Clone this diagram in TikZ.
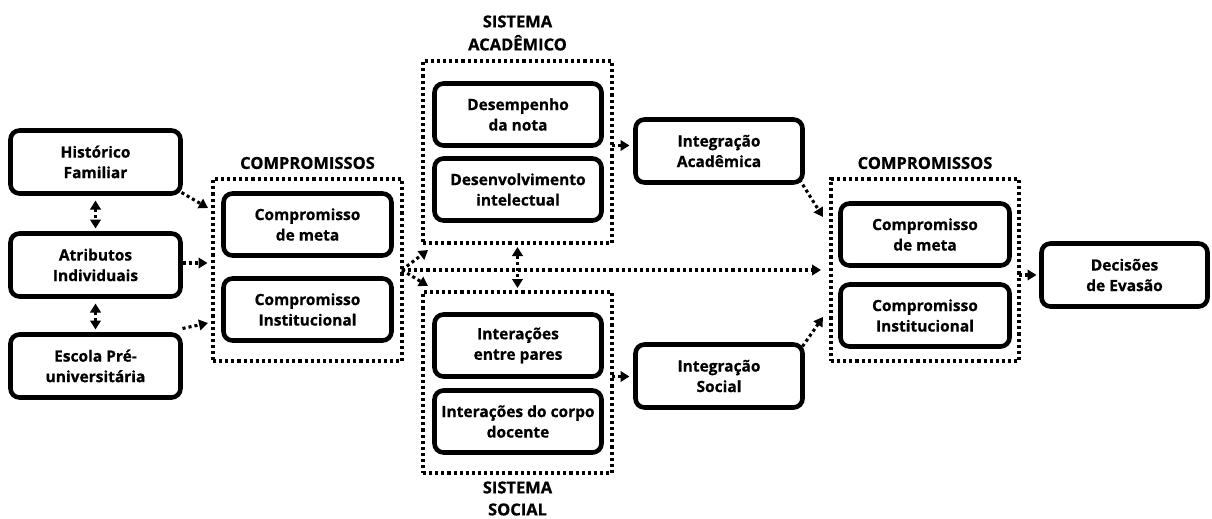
\documentclass[tikz,border=0pt]{standalone}
\usepackage{fontspec}
\setmainfont{Open Sans}[BoldFeatures={FakeBold=0.7}]
\usetikzlibrary{arrows.meta,calc}
\begin{document}
\begin{tikzpicture}[x=1pt,y=-1pt,
  box/.style={draw, line width=4.6pt, rounded corners=9pt, align=center, inner sep=0pt, outer sep=0pt,
    font=\fontsize{15.5}{20.5}\selectfont\bfseries},
  dotbox/.style={draw, line width=3.1pt, dash pattern=on 3.1pt off 3pt, inner sep=0pt, outer sep=0pt},
  lbl/.style={align=center, inner sep=0pt, font=\fontsize{16.5}{23}\selectfont\bfseries},
  arr/.style={line width=3.1pt, dash pattern=on 3.1pt off 3pt, -{Triangle[length=9pt,width=10.5pt]}},
  darr/.style={line width=3.1pt, dash pattern=on 3.1pt off 3pt, {Triangle[length=9pt,width=10.5pt]}-{Triangle[length=9pt,width=10.5pt]}},
]
\useasboundingbox (0,0) rectangle (1212,519);
% left column
\node[box, minimum width=170pt, minimum height=63pt] (hist) at (95.5,162) {Histórico\\Familiar};
\node[box, minimum width=170pt, minimum height=63pt] (attr) at (95.5,265) {Atributos\\Individuais};
\node[box, minimum width=170pt, minimum height=63pt] (esc) at (95.5,366) {Escola Pré-\\universitária};
% left commitments
\node[dotbox, minimum width=189pt, minimum height=182pt] (cbox1) at (307.5,270) {};
\node[lbl] (clbl1) at (307.5,163) {COMPROMISSOS};
\node[box, minimum width=168pt, minimum height=62pt] (cm1) at (307.5,224.5) {Compromisso\\de meta};
\node[box, minimum width=168pt, minimum height=62pt] (ci1) at (307.5,309.5) {Compromisso\\Institucional};
% academic system
\node[dotbox, minimum width=189pt, minimum height=182pt] (acad) at (517.5,152) {};
\node[lbl] (albl) at (517.5,33) {SISTEMA\\ACADÊMICO};
\node[box, minimum width=167pt, minimum height=62pt] (desemp) at (518,114.5) {Desempenho\\da nota};
\node[box, minimum width=167pt, minimum height=62pt] (desenv) at (518,189.5) {Desenvolvimento\\intelectual};
% social system
\node[dotbox, minimum width=189pt, minimum height=181pt] (soc) at (517.5,382.5) {};
\node[lbl, font=\fontsize{16.5}{22}\selectfont\bfseries] (slbl) at (517.5,498.5) {SISTEMA\\SOCIAL};
\node[box, minimum width=167pt, minimum height=62pt] (pares) at (518,345.5) {Interações\\entre pares};
\node[box, minimum width=167pt, minimum height=62pt] (corpo) at (518,421.5) {Interações do corpo\\docente};
% integration
\node[box, minimum width=167pt, minimum height=63pt] (intA) at (719,151) {Integração\\Acadêmica};
\node[box, minimum width=167pt, minimum height=63pt] (intS) at (719,376) {Integração\\Social};
% right commitments
\node[dotbox, minimum width=188pt, minimum height=182pt] (cbox2) at (925,270) {};
\node[lbl] (clbl2) at (925,163) {COMPROMISSOS};
\node[box, minimum width=169pt, minimum height=62pt] (cm2) at (925,234.5) {Compromisso\\de meta};
\node[box, minimum width=169pt, minimum height=62pt] (ci2) at (925,315.5) {Compromisso\\Institucional};
% decision
\node[box, minimum width=166pt, minimum height=63pt] (dec) at (1124.5,275) {Decisões\\de Evasão};
% free ends
\coordinate (t1) at (208,208);
\coordinate (t3) at (208,323);
\coordinate (tb1) at (428,250);
\coordinate (tb2) at (428,286);
\coordinate (te1) at (823,217);
\coordinate (te2) at (823,317);
% connectors
\draw[arr] ([shift={(1pt,1pt)}]hist.south east) -- (t1);
\draw[arr] ([shift={(2pt,2pt)}]attr.east) -- ([shift={(27pt,2pt)}]attr.east);
\draw[arr] ([shift={(2pt,6pt)}]esc.north east) -- (t3);
\draw[darr, shorten <=7pt, shorten >=5pt] (hist.south) -- (attr.north);
\draw[darr, shorten <=7pt, shorten >=5pt] (attr.south) -- (esc.north);
\draw[arr, shorten >=10pt] (cbox1.east) -- (cbox2.west);
\draw[arr] (cbox1.east) -- (tb1);
\draw[arr] (cbox1.east) -- (tb2);
\draw[darr, shorten <=4pt, shorten >=4pt] (acad.south) -- (soc.north);
\draw[arr, shorten >=6pt] (acad.east |- desemp.south) -- (intA.west |- desemp.south);
\draw[arr, shorten >=6pt] (soc.east |- pares.south) -- (intS.west |- pares.south);
\draw[arr] ([shift={(-3pt,3pt)}]intA.south east) -- (te1);
\draw[arr] ([shift={(0pt,-2pt)}]intS.north east) -- (te2);
\draw[arr, shorten >=5pt] (cbox2.east |- dec.west) -- (dec.west);
\end{tikzpicture}
\end{document}
